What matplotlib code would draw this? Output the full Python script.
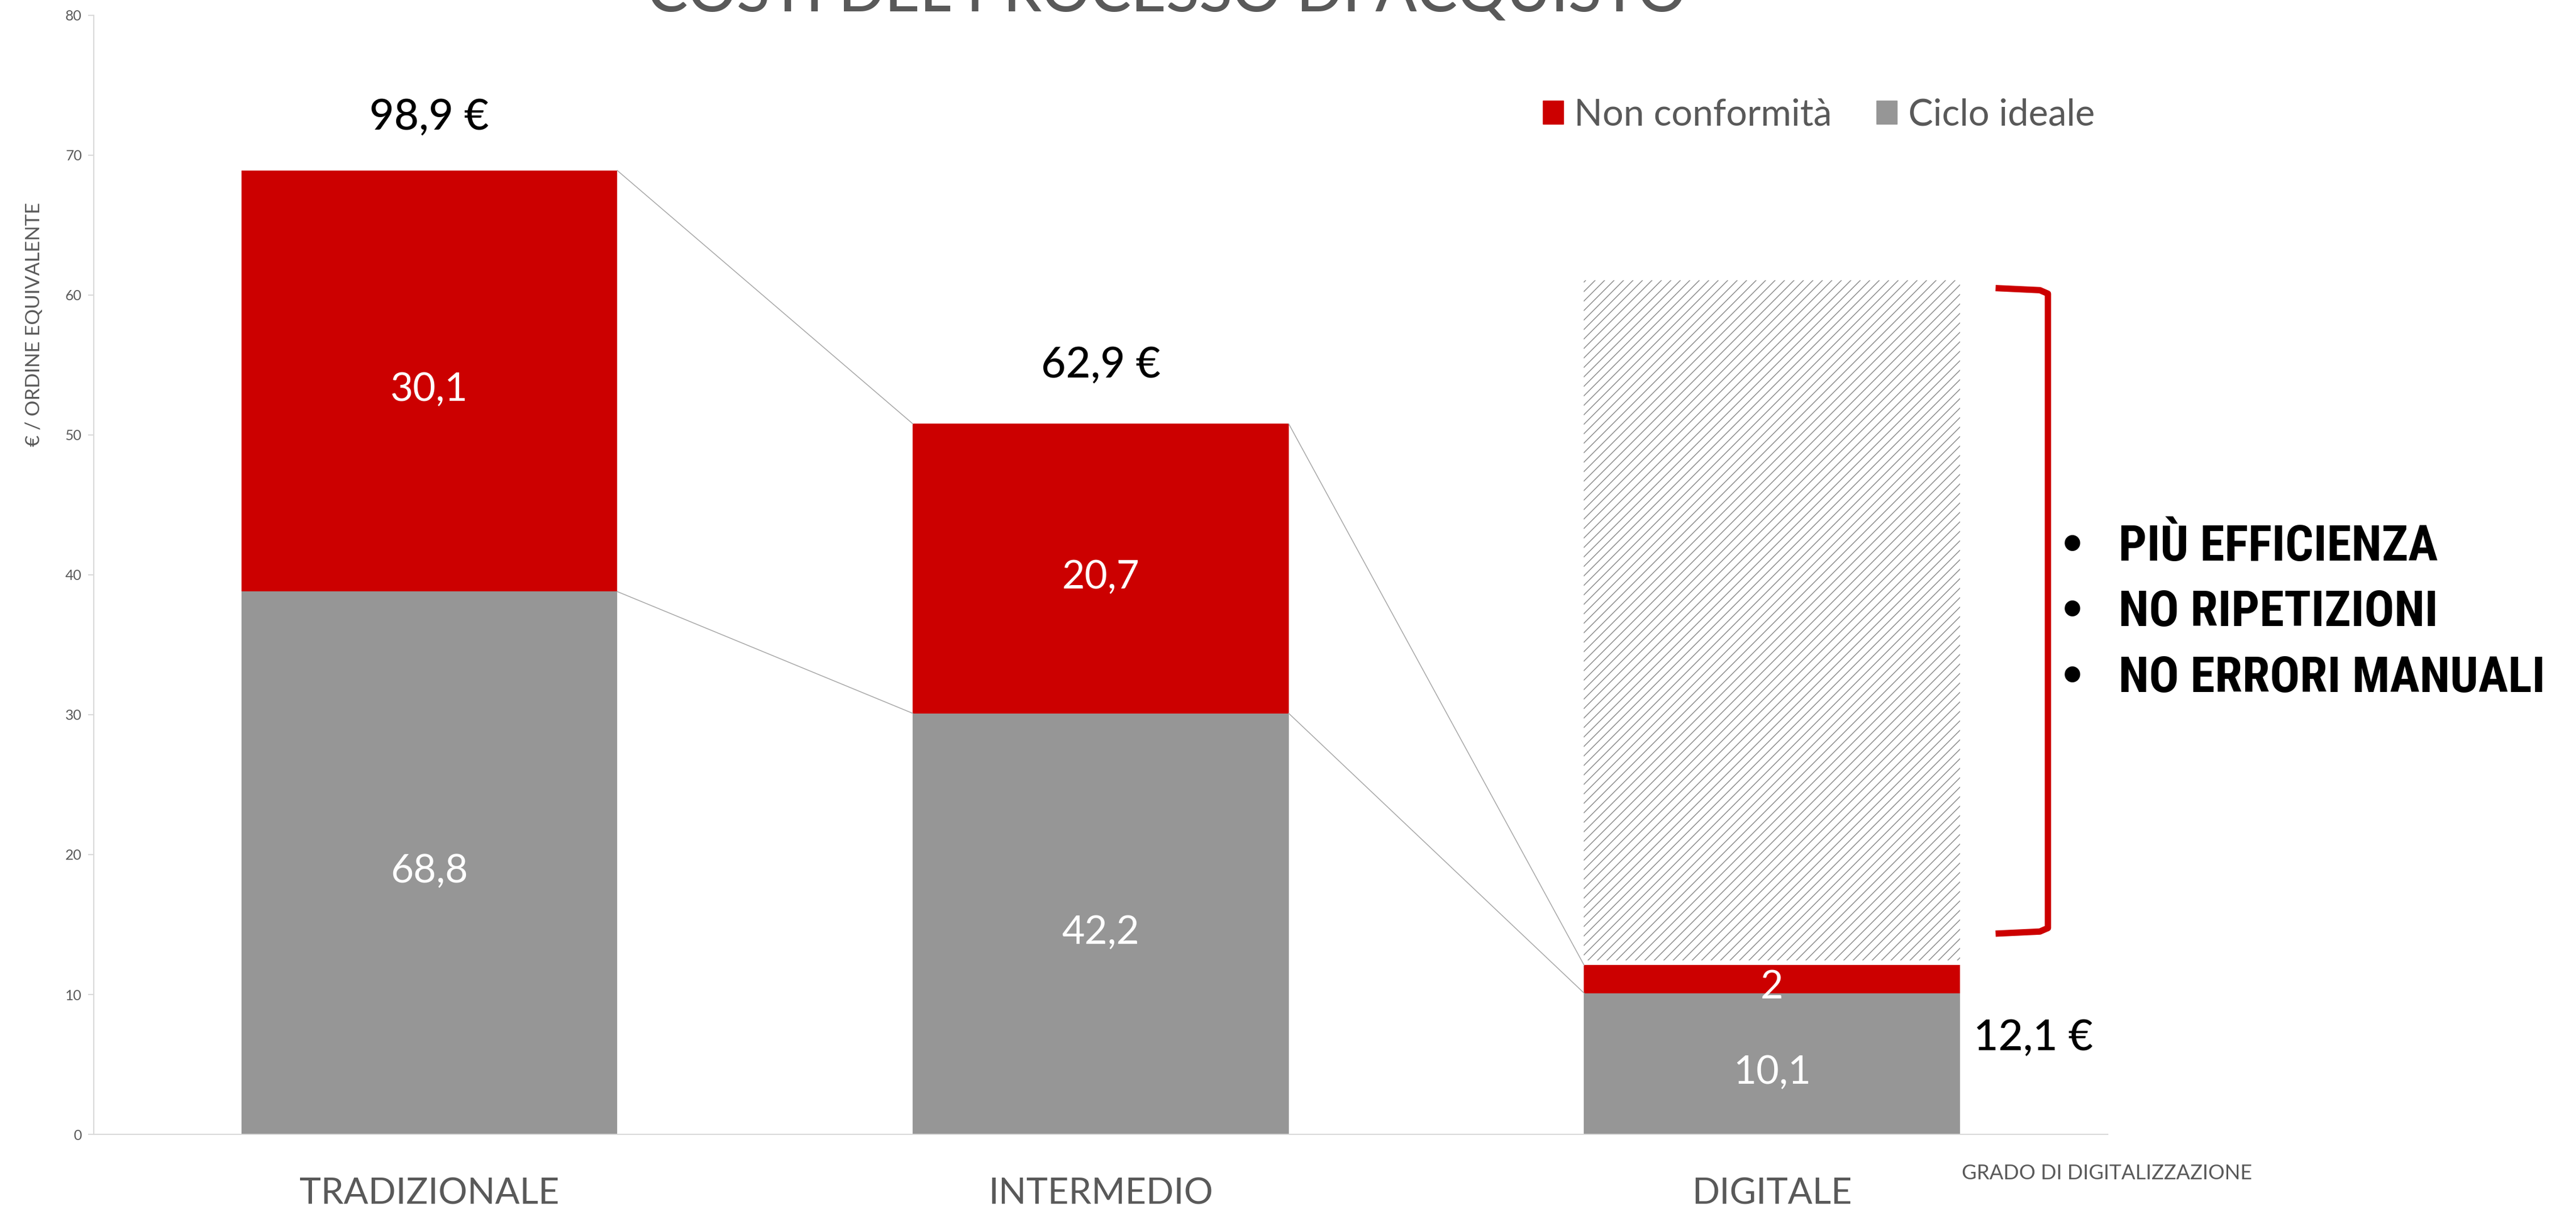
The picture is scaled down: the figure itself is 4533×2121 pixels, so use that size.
import matplotlib
matplotlib.use('Agg')
import matplotlib.pyplot as plt
from matplotlib.path import Path
from matplotlib.patches import PathPatch, Patch

plt.rcParams['font.family'] = ['Lato', 'DejaVu Sans']
plt.rcParams['hatch.linewidth'] = 1.1

# data
categories = ['TRADIZIONALE', 'INTERMEDIO', 'DIGITALE']
ciclo_ideale = [38.8, 30.1, 10.1]      # plotted heights of the grey part
non_conformita = [30.1, 20.7, 2.0]     # plotted heights of the red part
ciclo_labels = ['68,8', '42,2', '10,1']
nc_labels = ['30,1', '20,7', '2']
total_labels = ['98,9 €', '62,9 €', '12,1 €']
saving_bottom = 12.45
saving_top = 61.05
bullets = ['PIÙ EFFICIENZA', 'NO RIPETIZIONI', 'NO ERRORI MANUALI']

RED = '#cc0000'
GREY = '#969696'
TXT = '#595959'
width = 0.56
COND = ['Roboto Condensed', 'DejaVu Sans']

fig = plt.figure(figsize=(45.33, 21.21), dpi=100)
ax = fig.add_axes([0.0364, 0.0594, 0.7818, 0.9279])

x = list(range(len(categories)))
ax.bar(x, ciclo_ideale, width, color=GREY, label='Ciclo ideale', zorder=2)
ax.bar(x, non_conformita, width, bottom=ciclo_ideale, color=RED,
       label='Non conformità', zorder=2)

# hatched "saving" block on the digital bar
ax.bar(x[-1], saving_top - saving_bottom, width, bottom=saving_bottom,
       facecolor='white', edgecolor='#8c8c8c', linewidth=0, hatch='//', zorder=1)

# connector lines between bars
tops = [c + n for c, n in zip(ciclo_ideale, non_conformita)]
for i in range(len(x) - 1):
    for a, b in [(tops[i], tops[i + 1]), (ciclo_ideale[i], ciclo_ideale[i + 1])]:
        ax.plot([x[i] + width / 2, x[i + 1] - width / 2], [a, b],
                color='#a6a6a6', lw=1.1, zorder=3)

# labels inside bars
for i in x:
    ax.text(i, ciclo_ideale[i] / 2 - 0.6, ciclo_labels[i], ha='center',
            va='center', color='white', fontsize=50, zorder=4)
    ax.text(i, ciclo_ideale[i] + non_conformita[i] / 2 - 0.6, nc_labels[i],
            ha='center', va='center', color='white', fontsize=50, zorder=4)

# totals
ax.text(x[0], tops[0] + 3.8, total_labels[0], ha='center', va='center',
        fontsize=54, fontweight='medium', color='black')
ax.text(x[1], tops[1] + 4.2, total_labels[1], ha='center', va='center',
        fontsize=54, fontweight='medium', color='black')
ax.text(2.389, 6.9, total_labels[2], ha='center', va='center',
        fontsize=54, fontweight='medium', color='black')

# red bracket
xl, xr, yt, yb = 2.333, 2.411, 60.35, 14.5
verts = [(xl, yt + 0.15), (xr - 0.012, yt), (xr, yt - 0.25), (xr, yb + 0.25),
         (xr - 0.012, yb), (xl, yb - 0.15)]
codes = [Path.MOVETO] + [Path.LINETO] * 5
ax.add_patch(PathPatch(Path(verts, codes), fill=False, edgecolor=RED, lw=8,
                       joinstyle='round', capstyle='butt', clip_on=False))

for k, b in enumerate(bullets):
    yy = 42.0 - k * 4.7
    ax.text(2.447, yy, '•', ha='center', va='center', fontsize=56,
            fontweight='bold', color='black', clip_on=False,
            family=['DejaVu Sans'])
    ax.text(2.516, yy, b, ha='left', va='center', fontsize=63,
            fontweight='heavy', color='black', clip_on=False, family=COND)

# axes styling
ax.set_xlim(-0.5, 2.5)
ax.set_ylim(0, 80)
ax.set_yticks(range(0, 81, 10))
ax.set_xticks(x)
ax.set_xticklabels(categories, fontsize=46, color=TXT)
ax.tick_params(axis='x', length=0, pad=54)
ax.tick_params(axis='y', labelsize=18, labelcolor=TXT, color='#d9d9d9',
               length=7, width=1.5, pad=8)
for s in ['top', 'right']:
    ax.spines[s].set_visible(False)
for s in ['left', 'bottom']:
    ax.spines[s].set_color('#d9d9d9')
    ax.spines[s].set_linewidth(1.5)

handles = [Patch(color=RED), Patch(color=GREY)]
ax.legend(handles, ['Non conformità', 'Ciclo ideale'], loc='center right',
          bbox_to_anchor=(0.9935, 0.911), ncol=2, frameon=False, fontsize=47,
          handlelength=0.55, handleheight=0.6, handletextpad=0.3,
          columnspacing=1.2, borderpad=0, borderaxespad=0, labelcolor=TXT)

fig.text(60 / 4533, 1 - 570 / 2121, '€ / ORDINE EQUIVALENTE', rotation=90,
         ha='center', va='center', fontsize=25, color=TXT)
fig.text(0.818, 0.0269, 'GRADO DI DIGITALIZZAZIONE', ha='center',
         va='center', fontsize=26, color=TXT)
fig.text(0.453, 1 - 20 / 2121, 'COSTI DEL PROCESSO DI ACQUISTO', ha='center',
         va='baseline', fontsize=77, fontweight='medium', color=TXT)

fig.savefig('out.png', dpi=100)
